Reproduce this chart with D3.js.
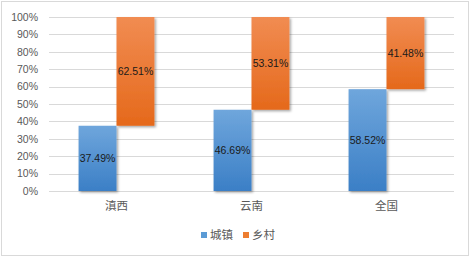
<!DOCTYPE html>
<html>
<head>
<meta charset="utf-8">
<script src="https://cdn.jsdelivr.net/npm/d3@7"></script>
<style>
  body { margin: 0; background: #fff; }
  svg text { font-family: "Noto Sans CJK SC", "Liberation Sans", sans-serif; }
</style>
</head>
<body>
<div id="chart"></div>
<script>
const categories = ["滇西", "云南", "全国"];
const urban = [37.49, 46.69, 58.52];
const rural = [62.51, 53.31, 41.48];
const seriesNames = ["城镇", "乡村"];
const yTicks = [0, 10, 20, 30, 40, 50, 60, 70, 80, 90, 100];

const W = 472, H = 258;
const margin = { top: 17, right: 18, bottom: 67, left: 49 },
      width = W - margin.left - margin.right,
      height = H - margin.top - margin.bottom;

const root = d3.select("#chart").append("svg")
    .attr("width", W)
    .attr("height", H);

// outer frame
root.append("rect")
    .attr("x", 1.5).attr("y", 1.5)
    .attr("width", 467).attr("height", 254)
    .attr("fill", "#fff")
    .attr("stroke", "#d9d9d9");

const defs = root.append("defs");
const gradBlue = defs.append("linearGradient").attr("id", "gBlue")
    .attr("x1", 0).attr("y1", 0).attr("x2", 0).attr("y2", 1);
gradBlue.append("stop").attr("offset", "0%").attr("stop-color", "#6fa6dc");
gradBlue.append("stop").attr("offset", "100%").attr("stop-color", "#3b7fc6");
const gradOrange = defs.append("linearGradient").attr("id", "gOrange")
    .attr("x1", 0).attr("y1", 0).attr("x2", 0).attr("y2", 1);
gradOrange.append("stop").attr("offset", "0%").attr("stop-color", "#f18c52");
gradOrange.append("stop").attr("offset", "100%").attr("stop-color", "#e5691b");
const shadow = defs.append("filter").attr("id", "shadow")
    .attr("x", "-20%").attr("y", "-20%").attr("width", "150%").attr("height", "150%");
shadow.append("feDropShadow")
    .attr("dx", 1.5).attr("dy", 1.5).attr("stdDeviation", 1.2)
    .attr("flood-color", "#000").attr("flood-opacity", 0.35);

const svg = root.append("g")
    .attr("transform", `translate(${margin.left},${margin.top})`);

const x = d3.scaleBand()
    .domain(categories)
    .range([0, width]);

const xs = d3.scaleBand()
    .domain(seriesNames)
    .range([0, x.bandwidth()])
    .paddingInner(0)
    .paddingOuter(0.78);

const y = d3.scaleLinear()
    .domain([0, 100])
    .range([height, 0]);

// gridlines
svg.append("g")
    .selectAll("line")
    .data(yTicks)
    .enter()
    .append("line")
    .attr("x1", 0).attr("x2", width)
    .attr("y1", d => Math.round(y(d)) + 0.5)
    .attr("y2", d => Math.round(y(d)) + 0.5)
    .attr("stroke", "#d9d9d9");

// y axis labels
svg.append("g")
    .call(d3.axisLeft(y).tickValues(yTicks).tickSize(0).tickPadding(11).tickFormat(d => d + "%"))
    .call(g => g.select(".domain").remove())
    .selectAll("text")
    .style("font-family", "'Liberation Sans', Arial, sans-serif")
    .style("font-size", "10.5px")
    .attr("fill", "#595959");

// x axis labels
svg.append("g")
    .attr("transform", `translate(0,${height})`)
    .call(d3.axisBottom(x).tickSize(0).tickPadding(11))
    .call(g => g.select(".domain").remove())
    .selectAll("text")
    .style("font-size", "11.5px")
    .attr("fill", "#595959");

const rows = categories.map((c, i) => ({ cat: c, urban: urban[i], rural: rural[i] }));

// 城镇 bars (0 -> value)
svg.selectAll(".bar-u")
    .data(rows)
    .enter()
    .append("rect")
    .attr("class", "bar-u")
    .attr("x", d => x(d.cat) + xs("城镇"))
    .attr("y", d => y(d.urban))
    .attr("width", xs.bandwidth())
    .attr("height", d => y(0) - y(d.urban))
    .attr("fill", "url(#gBlue)")
    .attr("filter", "url(#shadow)");

// 乡村 bars (urban -> 100)
svg.selectAll(".bar-r")
    .data(rows)
    .enter()
    .append("rect")
    .attr("class", "bar-r")
    .attr("x", d => x(d.cat) + xs("乡村"))
    .attr("y", d => y(d.urban + d.rural))
    .attr("width", xs.bandwidth())
    .attr("height", d => y(d.urban) - y(d.urban + d.rural))
    .attr("fill", "url(#gOrange)")
    .attr("filter", "url(#shadow)");

// data labels
svg.selectAll(".lbl-u")
    .data(rows)
    .enter()
    .append("text")
    .attr("x", d => x(d.cat) + xs("城镇") + xs.bandwidth() / 2)
    .attr("y", d => y(d.urban / 2))
    .attr("dy", "0.35em")
    .attr("text-anchor", "middle")
    .style("font-family", "'Liberation Sans', Arial, sans-serif")
    .style("font-size", "10.5px")
    .attr("fill", "#1a1a1a")
    .text(d => d.urban.toFixed(2) + "%");

svg.selectAll(".lbl-r")
    .data(rows)
    .enter()
    .append("text")
    .attr("x", d => x(d.cat) + xs("乡村") + xs.bandwidth() / 2)
    .attr("y", d => y(d.urban + d.rural / 2))
    .attr("dy", "0.35em")
    .attr("text-anchor", "middle")
    .style("font-family", "'Liberation Sans', Arial, sans-serif")
    .style("font-size", "10.5px")
    .attr("fill", "#1a1a1a")
    .text(d => d.rural.toFixed(2) + "%");

// legend
const legend = root.append("g").attr("transform", "translate(201,235)");
const colors = ["#5b9bd5", "#ed7d31"];
const lx = [0, 42];
seriesNames.forEach((n, i) => {
    legend.append("rect")
        .attr("x", lx[i]).attr("y", -3)
        .attr("width", 6).attr("height", 6)
        .attr("fill", colors[i]);
    legend.append("text")
        .attr("x", lx[i] + 9).attr("y", 0)
        .attr("dy", "0.35em")
        .style("font-size", "11.5px")
        .attr("fill", "#595959")
        .text(n);
});
</script>
</body>
</html>
